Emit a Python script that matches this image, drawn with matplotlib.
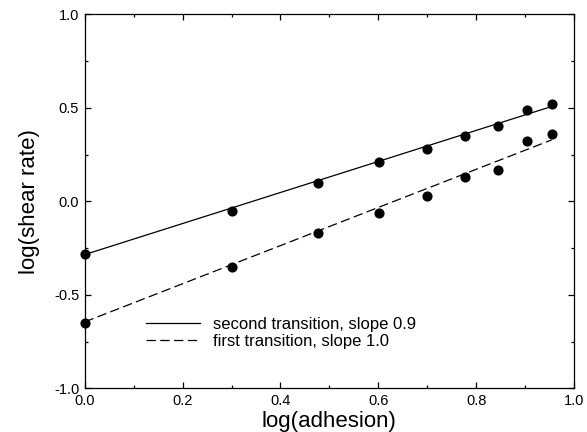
import numpy as np
from matplotlib import pyplot as plt
from matplotlib.ticker import MultipleLocator

plt.rcParams['font.family'] = ['Liberation Sans', 'DejaVu Sans']
plt.rcParams['axes.unicode_minus'] = False

adhesion = np.arange(1, 10)
log_adhesion = np.log10(adhesion)

second = [-0.28, -0.05, 0.10, 0.21, 0.28, 0.35, 0.40, 0.49, 0.52]
first = [-0.65, -0.35, -0.17, -0.06, 0.03, 0.13, 0.17, 0.32, 0.36]

# fitted lines (intercept, slope) as drawn in the figure
fit_second = (-0.285, 0.83)
fit_first = (-0.645, 1.02)

fig = plt.figure(figsize=(5.87, 4.32), dpi=100)
ax = fig.add_axes([0.1443, 0.1012, 0.8336, 0.8657])

xl = np.array([0, log_adhesion[-1]])
ax.plot(xl, fit_second[0] + fit_second[1] * xl, 'k-', lw=0.9,
        label='second transition, slope 0.9')
ax.plot(xl, fit_first[0] + fit_first[1] * xl, 'k--', lw=0.9,
        dashes=(7.5, 3.5), label='first transition, slope 1.0')
ax.plot(log_adhesion, second, 'ko', ms=6.3, clip_on=False)
ax.plot(log_adhesion, first, 'ko', ms=6.3, clip_on=False)

ax.set_xlim(0, 1)
ax.set_ylim(-1, 1)
ax.xaxis.set_major_locator(MultipleLocator(0.2))
ax.xaxis.set_minor_locator(MultipleLocator(0.1))
ax.yaxis.set_major_locator(MultipleLocator(0.5))
ax.yaxis.set_minor_locator(MultipleLocator(0.25))
ax.xaxis.set_major_formatter('{x:.1f}')
ax.yaxis.set_major_formatter('{x:.1f}')
ax.tick_params(which='both', direction='in', top=True, right=True,
               labelsize=10.5, width=0.9)
ax.tick_params(which='major', length=4.5, pad=4)
ax.tick_params(which='minor', length=2.5)
for s in ax.spines.values():
    s.set_linewidth(0.9)

ax.set_xlabel('log(adhesion)', fontsize=16, labelpad=2)
ax.set_ylabel('log(shear rate)', fontsize=16, labelpad=10)

ax.legend(loc='lower left', bbox_to_anchor=(0.095, 0.065), frameon=False,
          fontsize=12, handlelength=3.2, handletextpad=0.8, labelspacing=0.1)

plt.savefig('out.png', dpi=100)
